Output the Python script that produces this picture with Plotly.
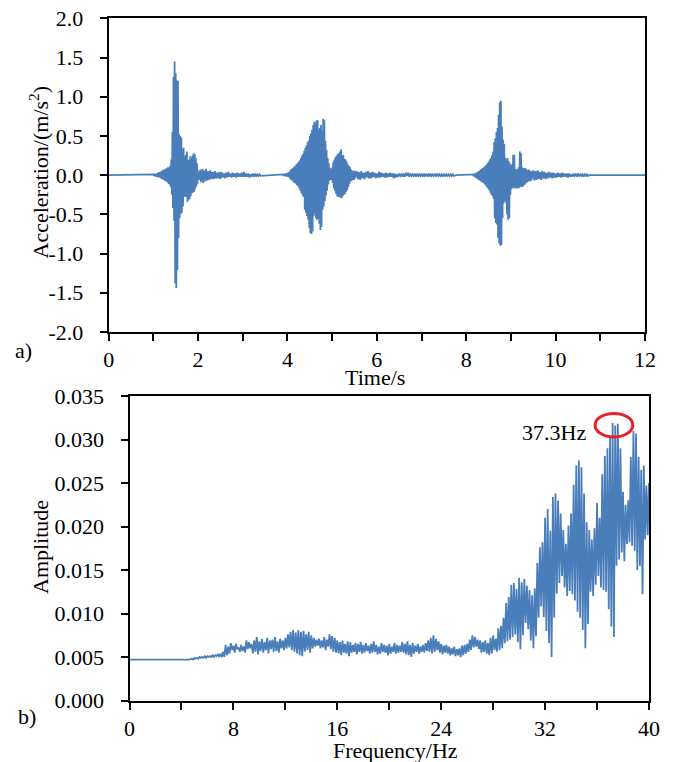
import plotly.graph_objects as go
import numpy as np

# ---------------- data: (a) acceleration time history (envelope samples, m/s^2) ----------------
# burst 1: start 1.0 s, step 0.025 s
b1_t0, b1_dt = 1.0, 0.025
b1_up = [0.01, 0.01, 0.02, 0.02, 0.03, 0.04, 0.04, 0.05, 0.06, 0.07,
         0.07, 0.08, 0.09, 0.10, 0.10, 0.12, 0.20, 0.55, 1.25, 1.45,
         1.30, 1.21, 1.20, 0.52, 0.50, 0.48, 0.32, 0.35, 0.24, 0.26,
         0.30, 0.19, 0.20, 0.24, 0.22, 0.25, 0.28, 0.27, 0.22, 0.15,
         0.06, 0.04, 0.07, 0.05, 0.08]
b1_lo = [-0.01, -0.01, -0.02, -0.02, -0.03, -0.03, -0.04, -0.05, -0.05, -0.06,
         -0.07, -0.08, -0.09, -0.11, -0.12, -0.15, -0.25, -0.42, -0.58, -1.38,
         -1.44, -1.21, -0.80, -0.55, -0.50, -0.48, -0.40, -0.28, -0.27, -0.28,
         -0.34, -0.32, -0.30, -0.27, -0.23, -0.22, -0.21, -0.17, -0.14, -0.11,
         -0.06, -0.05, -0.09, -0.06, -0.10]
# tail 1: start 2.125 s, step 0.05 s
t1_t0, t1_dt = 2.125, 0.05
t1_up = [0.06, 0.08, 0.05, 0.06, 0.04, 0.05, 0.03, 0.04, 0.04, 0.02,
         0.03, 0.04, 0.02, 0.03, 0.02, 0.03, 0.02, 0.03, 0.04, 0.02,
         0.02, 0.01, 0.02, 0.01, 0.01, 0.01]
t1_lo = [-0.08, -0.07, -0.06, -0.05, -0.05, -0.04, -0.04, -0.05, -0.03, -0.04,
         -0.03, -0.02, -0.03, -0.02, -0.03, -0.02, -0.02, -0.02, -0.02, -0.02,
         -0.03, -0.02, -0.01, -0.02, -0.01, -0.01]
# burst 2: start 3.9 s, step 0.025 s
b2_t0, b2_dt = 3.9, 0.025
b2_up = [0.01, 0.01, 0.02, 0.02, 0.03, 0.04, 0.05, 0.07, 0.08, 0.09,
         0.11, 0.12, 0.14, 0.15, 0.17, 0.19, 0.22, 0.25, 0.27, 0.31,
         0.35, 0.38, 0.42, 0.44, 0.50, 0.53, 0.58, 0.64, 0.68, 0.66,
         0.70, 0.70, 0.58, 0.60, 0.64, 0.56, 0.72, 0.70, 0.44, 0.32,
         0.22, 0.15, 0.09, 0.07, 0.10, 0.17, 0.20, 0.23, 0.25, 0.27,
         0.28, 0.30, 0.33, 0.25, 0.26, 0.21, 0.20, 0.17, 0.14, 0.12,
         0.10, 0.07, 0.06, 0.05, 0.06]
b2_lo = [-0.01, -0.01, -0.01, -0.02, -0.02, -0.03, -0.05, -0.06, -0.07, -0.09,
         -0.10, -0.11, -0.13, -0.14, -0.17, -0.20, -0.23, -0.26, -0.28, -0.44,
         -0.48, -0.52, -0.57, -0.67, -0.74, -0.75, -0.72, -0.52, -0.49, -0.55,
         -0.57, -0.55, -0.62, -0.70, -0.66, -0.44, -0.40, -0.33, -0.26, -0.20,
         -0.12, -0.07, -0.06, -0.06, -0.10, -0.17, -0.20, -0.24, -0.27, -0.28,
         -0.27, -0.29, -0.29, -0.27, -0.25, -0.24, -0.21, -0.19, -0.15, -0.11,
         -0.08, -0.07, -0.06, -0.06, -0.04]
# tail 2: start 5.55 s, step 0.05 s
t2_t0, t2_dt = 5.55, 0.05
t2_up = [0.05, 0.04, 0.05, 0.03, 0.04, 0.05, 0.03, 0.04, 0.03, 0.02,
         0.04, 0.03, 0.02, 0.03, 0.02, 0.03, 0.02, 0.02, 0.01, 0.02,
         0.01, 0.02, 0.03, 0.03, 0.02, 0.01, 0.02, 0.01, 0.02, 0.01,
         0.02, 0.01, 0.01, 0.02, 0.01, 0.01, 0.02, 0.01, 0.01, 0.01,
         0.01, 0.01, 0.01, 0.01, 0.00]
t2_lo = [-0.05, -0.06, -0.04, -0.05, -0.03, -0.04, -0.04, -0.02, -0.04, -0.03,
         -0.03, -0.02, -0.03, -0.03, -0.02, -0.02, -0.04, -0.03, -0.02, -0.01,
         -0.02, -0.02, -0.01, -0.02, -0.01, -0.01, -0.02, -0.01, -0.01, -0.02,
         -0.01, -0.01, -0.02, -0.01, -0.01, -0.01, -0.01, -0.01, -0.02, -0.01,
         -0.01, -0.01, -0.01, -0.01, 0.00]
# burst 3: start 8.15 s, step 0.025 s
b3_t0, b3_dt = 8.15, 0.025
b3_up = [0.01, 0.02, 0.02, 0.03, 0.04, 0.05, 0.06, 0.07, 0.08, 0.09,
         0.10, 0.12, 0.13, 0.15, 0.17, 0.20, 0.22, 0.25, 0.30, 0.42,
         0.47, 0.55, 0.60, 0.77, 0.93, 0.95, 0.62, 0.45, 0.40, 0.22,
         0.20, 0.22, 0.18, 0.15, 0.12, 0.14, 0.26, 0.26, 0.08, 0.07,
         0.08, 0.10, 0.30, 0.28, 0.10, 0.09, 0.08, 0.09, 0.07, 0.06,
         0.07, 0.06, 0.05]
b3_lo = [-0.01, -0.02, -0.03, -0.04, -0.05, -0.06, -0.07, -0.08, -0.09, -0.10,
         -0.12, -0.13, -0.15, -0.17, -0.19, -0.22, -0.25, -0.27, -0.30, -0.55,
         -0.61, -0.63, -0.80, -0.87, -0.90, -0.89, -0.55, -0.36, -0.33, -0.35,
         -0.50, -0.57, -0.55, -0.25, -0.18, -0.16, -0.17, -0.15, -0.17, -0.16,
         -0.17, -0.16, -0.15, -0.14, -0.15, -0.13, -0.12, -0.10, -0.09, -0.08,
         -0.07, -0.08, -0.06]
# tail 3: start 9.5 s, step 0.05 s
t3_t0, t3_dt = 9.5, 0.05
t3_up = [0.06, 0.05, 0.06, 0.04, 0.05, 0.04, 0.03, 0.04, 0.03, 0.03,
         0.02, 0.03, 0.02, 0.03, 0.02, 0.02, 0.02, 0.01, 0.02, 0.01,
         0.02, 0.01, 0.01, 0.01, 0.01, 0.00]
t3_lo = [-0.07, -0.06, -0.05, -0.06, -0.04, -0.05, -0.04, -0.03, -0.04, -0.03,
         -0.03, -0.02, -0.03, -0.02, -0.02, -0.03, -0.02, -0.02, -0.01, -0.02,
         -0.01, -0.01, -0.02, -0.01, -0.01, 0.00]
time_start, time_end = 0.0, 12.0

# ---------------- data: (b) amplitude spectrum (envelope samples, x1e-3) ----------------
spec_flat_f = [0.0, 4.6]
spec_flat_amp_milli = [4.7, 4.7]
spec_f0, spec_df = 4.8, 0.2
spec_up_milli = [
    4.8, 4.9, 4.9, 5.0, 5.0,   5.1, 5.1, 5.1, 5.2, 5.2,   5.3, 5.3, 5.6, 6.4, 6.2,
    6.6, 6.3, 6.5, 6.1, 6.4,   6.2, 6.9, 6.7, 6.5, 6.9,   7.3, 6.8, 7.1, 6.7, 7.2,
    6.9, 7.0, 7.3, 6.8, 7.1,   6.9, 7.2, 7.6, 7.9, 8.1,   7.8, 8.1, 7.9, 8.0, 7.6,
    7.9, 7.5, 7.2, 7.0, 7.1,   6.9, 7.3, 7.0, 7.6, 7.4,   7.2, 6.9, 6.7, 6.9, 6.5,
    6.8, 6.7, 6.4, 6.6, 6.5,   6.7, 6.4, 6.6, 6.3, 6.5,   6.8, 6.4, 6.2, 6.6, 6.4,
    6.3, 6.5, 6.2, 6.6, 6.4,   6.3, 6.7, 6.5, 6.8, 6.4,   6.6, 6.3, 6.5, 6.2, 6.4,
    6.6, 6.9, 7.2, 7.5, 7.1,   6.8, 6.5, 6.3, 6.4, 6.2,   6.0, 6.2, 5.9, 6.0, 6.3,
    6.4, 6.5, 7.0, 7.5, 7.3,   7.0, 6.9, 6.7, 6.9, 6.6,   7.2, 7.5, 7.1, 8.3, 8.6,
    9.5, 11.2, 11.9, 13.3, 13.5,   12.8, 14.1, 13.6, 14.0, 13.2,
    12.7, 12.1, 12.9, 15.8, 17.6,  18.2, 21.0, 22.0, 19.5, 23.4,
    23.8, 23.0, 21.5, 19.6, 18.0,  20.1, 21.5, 24.8, 27.0, 27.6,
    26.8, 23.8, 20.5, 19.6, 18.5,  19.8, 22.7, 21.0, 26.0, 28.1,
    29.0, 30.3, 31.9, 31.6, 31.8,  29.0, 24.0, 22.5, 23.0, 28.0,
    31.0, 30.7, 28.0, 26.5, 27.0,  24.7, 25.0]
spec_lo_milli = [
    4.7, 4.8, 4.8, 4.9, 4.9,   4.9, 5.0, 5.0, 5.0, 5.1,   5.1, 5.0, 5.0, 5.2, 5.4,
    5.8, 5.5, 5.9, 5.6, 5.7,   5.5, 5.9, 6.0, 5.4, 5.6,   5.3, 5.7, 5.5, 5.8, 5.4,
    5.9, 5.6, 5.7, 5.5, 6.0,   5.8, 6.0, 6.1, 5.8, 5.6,   5.4, 5.2, 5.1, 5.6, 5.8,
    5.5, 6.0, 6.2, 6.3, 6.0,   6.1, 5.8, 6.2, 5.9, 5.6,   5.5, 5.4, 5.2, 5.5, 5.4,
    5.1, 5.5, 5.6, 5.3, 5.6,   5.4, 5.5, 5.7, 5.4, 5.5,   5.6, 5.3, 5.4, 5.6, 5.5,
    5.2, 5.4, 5.6, 5.4, 5.5,   5.6, 5.5, 5.3, 5.2, 5.0,   5.4, 5.6, 5.4, 5.6, 5.5,
    5.7, 5.6, 5.4, 5.6, 5.8,   5.5, 5.3, 5.5, 5.4, 5.2,   5.3, 5.1, 5.2, 5.0, 5.2,
    5.4, 5.6, 5.8, 6.1, 6.2,   5.9, 5.5, 5.6, 5.4, 5.2,   5.4, 5.8, 5.6, 5.8, 6.0,
    6.6, 6.8, 7.0, 7.3, 7.6,   6.7, 5.9, 7.5, 8.9, 8.2,
    6.9, 6.0, 7.4, 9.5, 10.8,  9.6, 8.0, 6.6, 5.0, 9.5,
    12.3, 13.5, 14.3, 13.0, 12.0,  12.6, 12.2, 11.5, 10.2, 9.5,
    8.1, 6.0, 8.8, 12.5, 12.0,  13.3, 14.3, 13.0, 12.7, 12.5,
    10.5, 8.5, 7.3, 15.5, 16.2,  17.0, 16.0, 18.0, 18.2, 17.8,
    17.2, 15.0, 15.5, 12.2, 18.5,  19.0, 19.5]

peak_freq_label = "37.3Hz"
peak_freq = 37.3

# ---------------- tick labels ----------------
time_tickvals = list(range(0, 13))
time_ticktext = ["0", "", "2", "", "4", "", "6", "", "8", "", "10", "", "12"]
acc_tickvals = [-2.0, -1.5, -1.0, -0.5, 0.0, 0.5, 1.0, 1.5, 2.0]
acc_ticktext = ["-2.0", "-1.5", "-1.0", "-0.5", "0.0", "0.5", "1.0", "1.5", "2.0"]
freq_tickvals = list(range(0, 41, 4))
freq_ticktext = ["0", "", "8", "", "16", "", "24", "", "32", "", "40"]
amp_tickvals = [0.0, 0.005, 0.010, 0.015, 0.020, 0.025, 0.030, 0.035]
amp_ticktext = ["0.000", "0.005", "0.010", "0.015", "0.020", "0.025", "0.030", "0.035"]


def zigzag(t0, dt, up, lo, scale=1.0):
    xs, ys = [], []
    for i, (u, l) in enumerate(zip(up, lo)):
        t = t0 + i * dt
        xs += [t, t + dt / 2]
        ys += [u * scale, l * scale]
    return xs, ys


# assemble acceleration trace
acc_x, acc_y = [time_start], [0.0]
for seg in [(b1_t0, b1_dt, b1_up, b1_lo), (t1_t0, t1_dt, t1_up, t1_lo),
            (b2_t0, b2_dt, b2_up, b2_lo), (t2_t0, t2_dt, t2_up, t2_lo),
            (b3_t0, b3_dt, b3_up, b3_lo), (t3_t0, t3_dt, t3_up, t3_lo)]:
    xs, ys = zigzag(*seg)
    acc_x += xs
    acc_y += ys
acc_x.append(time_end)
acc_y.append(0.0)

# assemble spectrum trace
sp_x = list(spec_flat_f)
sp_y = [v * 1e-3 for v in spec_flat_amp_milli]
xs, ys = zigzag(spec_f0, spec_df, spec_up_milli, spec_lo_milli, 1e-3)
sp_x += xs
sp_y += ys

LINE = "#4a7ebb"
FONT = "Liberation Serif"
W, H = 675, 762
OFF = 8  # page body offset of the rendered figure


def px(x):
    return (x - OFF) / W


def py(y):
    return 1 - (y - OFF) / H


fig = go.Figure()
fig.add_trace(go.Scatter(x=acc_x, y=acc_y, mode="lines", line=dict(color=LINE, width=1.8),
                         xaxis="x", yaxis="y", showlegend=False, hoverinfo="skip"))
fig.add_trace(go.Scatter(x=sp_x, y=sp_y, mode="lines", line=dict(color=LINE, width=1.8),
                         xaxis="x2", yaxis="y2", showlegend=False, hoverinfo="skip"))

axis_common = dict(showline=True, linecolor="black", linewidth=2, mirror=True,
                   ticks="outside", ticklen=7, tickwidth=1.5, tickcolor="black",
                   showgrid=False, zeroline=False, automargin=False,
                   ticklabeloverflow="allow",
                   tickfont=dict(family=FONT, size=22, color="black"))

fig.update_layout(
    width=W, height=H, margin=dict(l=0, r=0, t=0, b=0, pad=0, autoexpand=False),
    paper_bgcolor="white", plot_bgcolor="white", showlegend=False,
    xaxis=dict(domain=[px(108.7), px(645)], range=[0, 12], anchor="y",
               tickvals=time_tickvals, ticktext=time_ticktext, **axis_common),
    yaxis=dict(domain=[py(332), py(18.3)], range=[-2, 2], anchor="x",
               tickvals=acc_tickvals, ticktext=acc_ticktext, ticklabelstandoff=12,
               **axis_common),
    xaxis2=dict(domain=[px(129.5), px(649)], range=[0, 40], anchor="y2",
                tickvals=freq_tickvals, ticktext=freq_ticktext, **axis_common),
    yaxis2=dict(domain=[py(700.5), py(396)], range=[0, 0.035], anchor="x2",
                tickvals=amp_tickvals, ticktext=amp_ticktext, ticklabelstandoff=12,
                **axis_common),
)

txt = dict(family=FONT, size=22, color="black")
ann = [
    dict(text="Acceleration/(m/s<sup>2</sup>)", x=px(38.5), y=py(172), textangle=-90),
    dict(text="Time/s", x=px(375), y=py(378)),
    dict(text="Amplitude", x=px(40), y=py(547), textangle=-90),
    dict(text="Frequency/Hz", x=px(395), y=py(750)),
    dict(text="a)", x=px(23), y=py(350)),
    dict(text="b)", x=px(27), y=py(716)),
]
for a in ann:
    fig.add_annotation(xref="paper", yref="paper", showarrow=False, font=txt,
                       xanchor="center", yanchor="middle", **a)

fig.add_annotation(text=peak_freq_label, xref="x2", yref="y2", x=35.3, y=0.0308,
                   xanchor="right", yanchor="middle", showarrow=False, font=txt)
fig.add_shape(type="circle", xref="x2", yref="y2",
              x0=peak_freq - 1.45, x1=peak_freq + 1.45, y0=0.0303, y1=0.0330,
              line=dict(color="#e8202a", width=3))

fig.write_html("out.html")
